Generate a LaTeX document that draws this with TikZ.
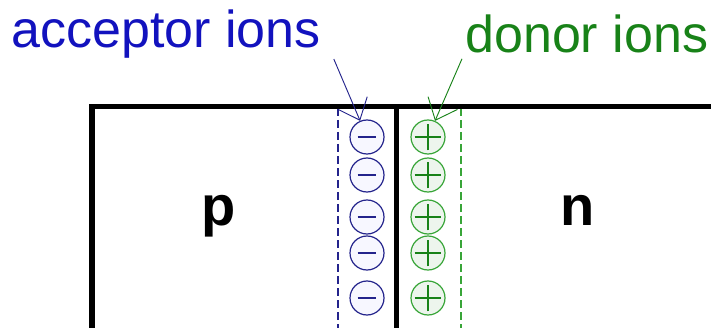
\documentclass[tikz,border=0pt]{standalone}
\usepackage{fontspec}
\setmainfont{Liberation Sans}
\usetikzlibrary{arrows.meta}

\definecolor{accblue}{RGB}{18,18,190}
\definecolor{accline}{RGB}{36,36,140}
\definecolor{dongreen}{RGB}{24,130,24}
\definecolor{donline}{RGB}{56,165,56}

\begin{document}
\begin{tikzpicture}[x=0.75pt,y=-0.75pt,
  ion/.style={circle,draw,line width=0.9pt,minimum size=25.5pt,inner sep=0pt},
  tag/.style={inner sep=0pt,anchor=base west,font=\fontsize{39}{41}\selectfont},
  side/.style={inner sep=0pt,anchor=base,font=\bfseries\fontsize{42}{44}\selectfont},
  edgeline/.style={dash pattern=on 6pt off 3pt,line width=1.1pt},
  pointer/.style={line width=0.7pt,-{Straight Barb[length=14pt,width=24pt]}}]
  \useasboundingbox (0,0) rectangle (711,328);

  % edges of the depletion region
  \draw[edgeline,accline] (338,108) -- (338,330);
  \draw[edgeline,donline] (461,108) -- (461,330);

  % the crystal and the junction
  \draw[line width=4.2pt] (92,330.5) |- (720,106.5);
  \draw[line width=4.2pt] (720,330.5) -- (92,330.5);
  \draw[line width=4.2pt] (396.5,106.5) -- (396.5,330);

  % fixed ions on each side
  \foreach \i/\y in {1/137,2/175,3/217,4/253,5/298}{
    \node[ion,accline,fill=blue!3] (acc\i) at (367,\y) {};
    \draw[accline,line width=1.2pt] ([xshift=-7pt]acc\i.center) -- ([xshift=7pt]acc\i.center);
    \node[ion,donline,fill=dongreen!8] (don\i) at (428,\y) {};
    \draw[dongreen,line width=1.2pt] ([xshift=-10pt]don\i.center) -- ([xshift=10pt]don\i.center);
    \draw[dongreen,line width=1.2pt] ([yshift=-10pt]don\i.center) -- ([yshift=10pt]don\i.center);
  }

  \node[side] (pside) at (219,225) {p};
  \node[side] (nside) at (577.5,225) {n};

  \node[tag,accblue] (acctag) at (11,48) {acceptor ions};
  \node[tag,dongreen] (dontag) at (465,53) {donor ions};

  \draw[pointer,accline] ([shift={(13,0)}]acctag.south east) -- (acc1);
  \draw[pointer,dongreen] ([shift={(-3,5)}]dontag.south west) -- (don1);
\end{tikzpicture}
\end{document}
